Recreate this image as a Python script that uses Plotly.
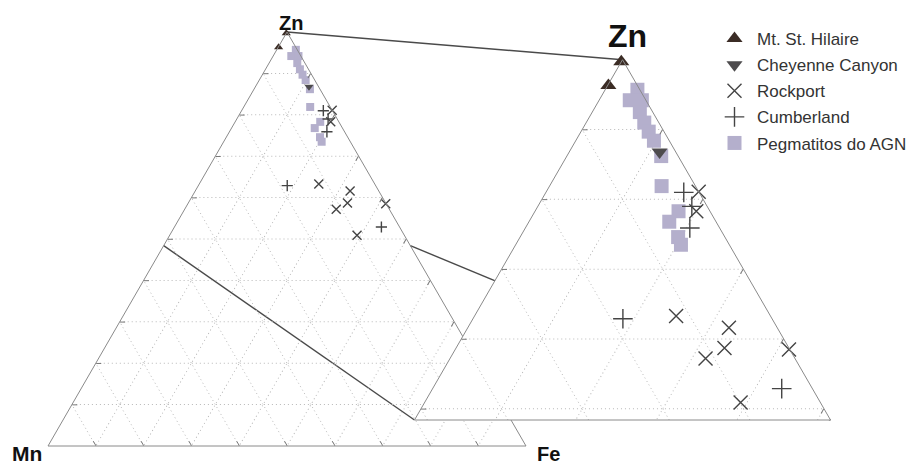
import math
import plotly.graph_objects as go

# ---------------- data (Zn, Mn, Fe fractions) ----------------
hilaire_zn = [0.997, 0.963]
hilaire_mn = [0.003, 0.036]
hilaire_fe = [0.000, 0.001]

cheyenne_zn = [0.868]
cheyenne_mn = [0.020]
cheyenne_fe = [0.112]

rockport_zn = [0.811, 0.783, 0.633, 0.616, 0.587, 0.572, 0.585, 0.509]
rockport_mn = [0.000, 0.017, 0.117, 0.060, 0.080, 0.111, 0.001, 0.099]
rockport_fe = [0.189, 0.200, 0.250, 0.324, 0.333, 0.317, 0.414, 0.392]

cumberland_zn = [0.810, 0.790, 0.759, 0.629, 0.529]
cumberland_mn = [0.019, 0.019, 0.037, 0.185, 0.038]
cumberland_fe = [0.171, 0.191, 0.204, 0.186, 0.433]

agn_zn = [0.957, 0.942, 0.942, 0.925, 0.910, 0.897, 0.884, 0.862, 0.819, 0.783, 0.768, 0.746, 0.735]
agn_mn = [0.003, 0.020, 0.005, 0.016, 0.018, 0.019, 0.019, 0.021, 0.042, 0.039, 0.058, 0.058, 0.060]
agn_fe = [0.040, 0.038, 0.053, 0.059, 0.072, 0.084, 0.097, 0.117, 0.139, 0.178, 0.174, 0.196, 0.205]

series_names = ["Mt. St. Hilaire", "Cheyenne Canyon", "Rockport", "Cumberland", "Pegmatitos do AGN"]
zoom_zn_min = 0.484

# ---------------- layout geometry (window pixels) ----------------
PW, PH = 914, 468
OFF = 8  # page body margin: figure origin sits at (8, 8) in the window
S3 = math.sqrt(3) / 2
BIG = dict(x0=48.0, w=478.0, base=446.0)
ZOOM = dict(x0=414.5, w=416.0, base=420.0)
for g in (BIG, ZOOM):
    g["h"] = g["w"] * S3


def fx(x):
    return (x - OFF) / PW


def fy(y):
    return 1 - (y - OFF) / PH


def domain(g):
    return dict(x=[fx(g["x0"]), fx(g["x0"] + g["w"])],
                y=[fy(g["base"]), fy(g["base"] - g["h"])])


def to_px(g, a, c, amin=0.0):
    s = 1 - amin
    ap = (a - amin) / s
    cp = c / s
    return g["x0"] + g["w"] * (cp + ap / 2), g["base"] - g["h"] * ap


FONT = "Liberation Sans, Arial, sans-serif"
EDGE = "#8a8a8a"
GRID = "#b8b8b8"


def ax(amin=0.0, ticks=True):
    return dict(min=amin, tick0=0, dtick=0.1, showticklabels=False,
                ticks="inside" if ticks else "", ticklen=5, tickcolor="#777",
                tickwidth=1, linecolor=EDGE, linewidth=1, showgrid=True,
                gridcolor=GRID, gridwidth=1, griddash="1px,3px", title=dict(text=""))


styles = [
    dict(symbol="triangle-up", color="#3b2c25", line=dict(width=0)),
    dict(symbol="triangle-down", color="#4d4b4d", line=dict(width=0)),
    dict(symbol="x-thin", color="#444444", line=dict(width=1.4, color="#444444")),
    dict(symbol="cross-thin", color="#444444", line=dict(width=1.4, color="#444444")),
    dict(symbol="square", color="#b4afcc", line=dict(width=0)),
]
data_sets = [
    (hilaire_zn, hilaire_mn, hilaire_fe),
    (cheyenne_zn, cheyenne_mn, cheyenne_fe),
    (rockport_zn, rockport_mn, rockport_fe),
    (cumberland_zn, cumberland_mn, cumberland_fe),
    (agn_zn, agn_mn, agn_fe),
]
big_sizes = [8, 8, 9, 8, 8]
zoom_sizes = [14, 14, 14, 14, 14]
draw_order = [4, 0, 1, 2, 3]

fig = go.Figure()
for sub, sizes, show in (("ternary", big_sizes, False), ("ternary2", zoom_sizes, True)):
    for i in draw_order:
        zn, mn, fe = data_sets[i]
        st = dict(styles[i])
        st["size"] = sizes[i]
        fig.add_trace(go.Scatterternary(
            a=zn, b=mn, c=fe, mode="markers", marker=st, name=series_names[i],
            subplot=sub, showlegend=show, legendrank=i + 1, cliponaxis=False,
            legendgroup=series_names[i]))

# connecting lines between full diagram and enlarged part
ax_px, ay_px = to_px(BIG, 1, 0)
lx_px, ly_px = to_px(BIG, zoom_zn_min, 0)
rx_px, ry_px = to_px(BIG, zoom_zn_min, 1 - zoom_zn_min)
zax, zay = to_px(ZOOM, 1, 0, zoom_zn_min)
zlx, zly = to_px(ZOOM, zoom_zn_min, 0, zoom_zn_min)
zrx, zry = to_px(ZOOM, zoom_zn_min, 1 - zoom_zn_min, zoom_zn_min)
shapes = []
for (x1, y1, x2, y2) in ((ax_px, ay_px, zax, zay), (lx_px, ly_px, zlx, zly), (rx_px, ry_px, zrx, zry)):
    shapes.append(dict(type="line", xref="paper", yref="paper", x0=fx(x1), y0=fy(y1),
                       x1=fx(x2), y1=fy(y2), line=dict(color="#4a4a4a", width=1.4), layer="below"))

annotations = []
for text, (x, y), size, yanc in (("Zn", (291, 23), 20, "middle"), ("Mn", (27, 467), 21, "bottom"),
                                 ("Fe", (548, 467), 20, "bottom"), ("Zn", (627, 36), 32, "middle")):
    annotations.append(dict(text="<b>%s</b>" % text, x=fx(x), y=fy(y), xref="paper", yref="paper",
                            showarrow=False, xanchor="center", yanchor=yanc,
                            font=dict(family=FONT, size=size, color="#111")))

fig.update_layout(
    width=PW, height=PH, margin=dict(l=0, r=0, t=0, b=0),
    paper_bgcolor="white", plot_bgcolor="white",
    ternary=dict(domain=domain(BIG), sum=1, bgcolor="rgba(0,0,0,0)",
                 aaxis=ax(), baxis=ax(), caxis=ax()),
    ternary2=dict(domain=domain(ZOOM), sum=1, bgcolor="white",
                  aaxis=ax(zoom_zn_min), baxis=ax(0, ticks=False), caxis=ax()),
    shapes=shapes, annotations=annotations,
    legend=dict(x=fx(712), y=fy(21), xanchor="left", yanchor="top",
                bgcolor="rgba(0,0,0,0)", tracegroupgap=1, itemwidth=35,
                font=dict(family=FONT, size=17, color="#333")),
    font=dict(family=FONT),
)
fig.write_html("out.html")
